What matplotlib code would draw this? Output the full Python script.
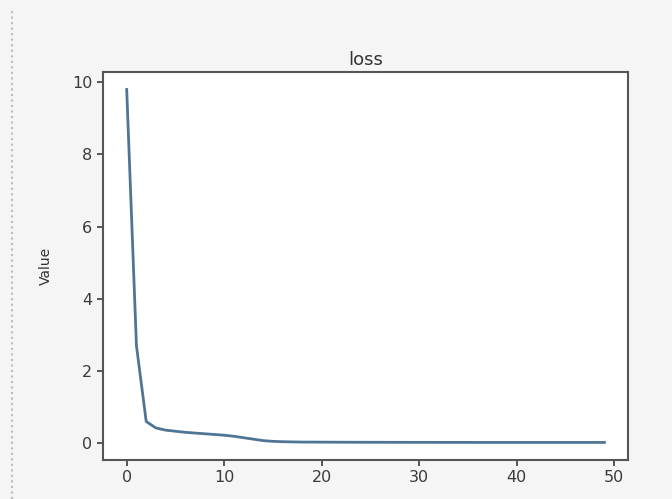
import matplotlib
matplotlib.use("Agg")
import matplotlib.pyplot as plt
from matplotlib.lines import Line2D

# loss per epoch
epochs = list(range(50))
loss = [9.8, 2.7, 0.6, 0.42, 0.36, 0.33, 0.30, 0.28, 0.26, 0.24,
        0.22, 0.19, 0.15, 0.11, 0.07, 0.05, 0.04, 0.035, 0.03, 0.03,
        0.028, 0.027, 0.026, 0.025, 0.025, 0.024, 0.024, 0.023, 0.023, 0.022,
        0.022, 0.022, 0.021, 0.021, 0.021, 0.021, 0.02, 0.02, 0.02, 0.02,
        0.02, 0.02, 0.02, 0.02, 0.02, 0.02, 0.02, 0.02, 0.02, 0.02]

fig = plt.figure(figsize=(6.72, 4.99), dpi=100, facecolor="#f5f5f5")
ax = fig.add_axes([0.153, 0.078, 0.782, 0.778])
ax.set_facecolor("white")

ax.plot(epochs, loss, color="#4f7595", linewidth=2)
ax.set_title("loss", fontsize=13, color="#333333", pad=5)
ax.set_ylabel("Value", fontsize=10, color="#333333", labelpad=14)
ax.set_xticks([0, 10, 20, 30, 40, 50])
ax.set_yticks([0, 2, 4, 6, 8, 10])
ax.tick_params(labelsize=11.5, colors="#3a3a3a", length=4, width=1.2)
for s in ax.spines.values():
    s.set_color("#555555")
    s.set_linewidth(1.5)

# dotted notebook gutter line
fig.add_artist(Line2D([12/672, 12/672], [0, 0.98], color="#bbbbbb",
                      linestyle=":", linewidth=1.5))

fig.savefig("out.png", dpi=100, facecolor=fig.get_facecolor())
